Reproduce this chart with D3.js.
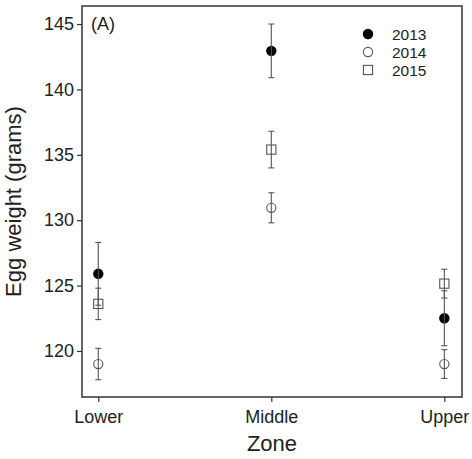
<!DOCTYPE html>
<meta charset="utf-8">
<html>
<head>
<title>egg weight by zone</title>
<style>
    body {
        margin: 0;
        background: #fff;
        font-family: "Liberation Sans", Arial, Helvetica, sans-serif;
    }
</style>
<script src="https://d3js.org/d3.v7.min.js"></script>
</head>
<body>
<div id="chart"></div>
<script>

// data
var zones = ["Lower", "Middle", "Upper"];
var years = ["2013", "2014", "2015"];
var mean2013 = [125.9, 142.95, 122.5];
var err2013 = [2.4, 2.05, 2.1];
var mean2014 = [119.0, 130.95, 119.0];
var err2014 = [1.2, 1.15, 1.1];
var mean2015 = [123.6, 135.4, 125.15];
var err2015 = [1.2, 1.4, 1.1];
var yTicks = [120, 125, 130, 135, 140, 145];

// set the dimensions and margins of the graph
var margin = {top: 6, right: 10, bottom: 62, left: 82},
    width = 472 - margin.left - margin.right,
    height = 459 - margin.top - margin.bottom;

var svg = d3.select("#chart")
  .append("svg")
    .attr("width", 472)
    .attr("height", 459)
  .append("g")
    .attr("transform", "translate(" + margin.left + "," + margin.top + ")");

// set the ranges (zones at 1,2,3)
var x = d3.scaleLinear().domain([0.906, 3.102]).range([0, width]);
var y = d3.scaleLinear().domain([116.48, 146.38]).range([height, 0]);

var series = [
  {year: years[0], mean: mean2013, err: err2013, shape: "dot"},
  {year: years[1], mean: mean2014, err: err2014, shape: "circle"},
  {year: years[2], mean: mean2015, err: err2015, shape: "square"}
];

var grey = "#555";

// frame
svg.append("rect")
    .attr("width", width)
    .attr("height", height)
    .attr("fill", "none")
    .attr("stroke", "#333")
    .attr("stroke-width", 1.5);

// axes
var yAxis = svg.append("g")
    .call(d3.axisLeft(y).tickValues(yTicks).tickSize(5).tickPadding(3).tickFormat(d3.format("d")));
var xAxis = svg.append("g")
    .attr("transform", "translate(0," + height + ")")
    .call(d3.axisBottom(x).tickValues([1, 2, 3]).tickSize(5).tickPadding(8)
      .tickFormat(function(d) { return zones[d - 1]; }));

[xAxis, yAxis].forEach(function(a) {
  a.select(".domain").remove();
  a.selectAll("line").attr("stroke", "#333").attr("stroke-width", 1.2);
  a.selectAll("text")
    .attr("fill", "#222")
    .style("font-size", "18px")
    .style("font-family", "'Liberation Sans', Arial, sans-serif");
});

// draw markers and error bars
function drawMarker(g, shape, cx, cy) {
  if (shape === "dot") {
    g.append("circle").attr("cx", cx).attr("cy", cy).attr("r", 5.2)
      .attr("fill", "#000");
  } else if (shape === "circle") {
    g.append("circle").attr("cx", cx).attr("cy", cy).attr("r", 4.6)
      .attr("fill", "none").attr("stroke", grey).attr("stroke-width", 1.1);
  } else {
    g.append("rect").attr("x", cx - 4.6).attr("y", cy - 4.6)
      .attr("width", 9.2).attr("height", 9.2)
      .attr("fill", "none").attr("stroke", grey).attr("stroke-width", 1.1);
  }
}

series.forEach(function(s) {
  var g = svg.append("g");
  s.mean.forEach(function(m, i) {
    var cx = x(i + 1);
    var lo = y(m - s.err[i]), hi = y(m + s.err[i]);
    drawMarker(g, s.shape, cx, y(m));
    g.append("line").attr("x1", cx).attr("x2", cx).attr("y1", lo).attr("y2", hi)
      .attr("stroke", grey).attr("stroke-width", 1.1);
    [lo, hi].forEach(function(yy) {
      g.append("line").attr("x1", cx - 3).attr("x2", cx + 3).attr("y1", yy).attr("y2", yy)
        .attr("stroke", grey).attr("stroke-width", 1.1);
    });
  });
});

// legend
var legend = svg.append("g").attr("transform", "translate(286,28)");
series.forEach(function(s, i) {
  var ly = i * 18;
  drawMarker(legend, s.shape, 0, ly);
  legend.append("text")
      .attr("x", 24)
      .attr("y", ly)
      .attr("dy", "0.36em")
      .attr("fill", "#222")
      .style("font-size", "15.5px")
      .text(s.year);
});

// panel label
svg.append("text")
    .attr("x", 9)
    .attr("y", 24)
    .attr("fill", "#222")
    .style("font-size", "18px")
    .text("(A)");

// axis titles
svg.append("text")
    .attr("x", width / 2)
    .attr("y", height + 54)
    .attr("text-anchor", "middle")
    .attr("fill", "#222")
    .style("font-size", "22px")
    .text("Zone");

svg.append("text")
    .attr("transform", "rotate(-90)")
    .attr("x", -height / 2)
    .attr("y", -61)
    .attr("text-anchor", "middle")
    .attr("fill", "#222")
    .style("font-size", "22px")
    .text("Egg weight (grams)");

</script>
</body>
</html>
